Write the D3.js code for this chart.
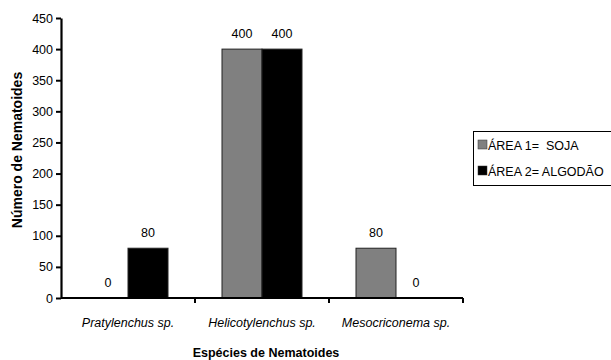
<!DOCTYPE html>
<html><head><meta charset="utf-8">
<script src="https://cdn.jsdelivr.net/npm/d3@7"></script>
<style>body{margin:0;background:#fff}svg{display:block}text{font-family:"Liberation Sans",Arial,sans-serif}</style>
</head><body><svg id="c" width="611" height="360"></svg>
<script>
const categories = ["Pratylenchus sp.", "Helicotylenchus sp.", "Mesocriconema sp."];
const seriesNames = ["ÁREA 1=  SOJA", "ÁREA 2= ALGODÃO"];
const area1 = [0, 400, 80];
const area2 = [80, 400, 0];
const yTicks = [0, 50, 100, 150, 200, 250, 300, 350, 400, 450];
const colors = ["#808080", "#000000"];

const svg = d3.select("#c");
const m = {l: 61, r: 463, t: 18, b: 298};
const x = d3.scaleBand().domain(categories).range([m.l, m.r]).paddingInner(0).paddingOuter(0);
const y = d3.scaleLinear().domain([0, 450]).range([m.b, m.t]);
const bw = 40;
const x1 = d3.scaleBand().domain([0, 1]).range([0, bw * 2]);

const series = [area1, area2];
series.forEach((vals, si) => {
  const g = svg.append("g");
  g.selectAll("rect").data(vals).join("rect")
    .attr("x", (d, i) => x(categories[i]) + x.bandwidth() / 2 - bw + x1(si))
    .attr("y", d => y(d))
    .attr("width", x1.bandwidth())
    .attr("height", d => y(0) - y(d))
    .attr("fill", colors[si])
    .attr("stroke", d => d > 0 ? "#222" : "none")
    .attr("stroke-width", 1);
  g.selectAll("text").data(vals).join("text")
    .attr("x", (d, i) => x(categories[i]) + x.bandwidth() / 2 - bw + x1(si) + x1.bandwidth() / 2)
    .attr("y", d => y(d) - 11)
    .attr("text-anchor", "middle")
    .attr("font-size", 12.5)
    .attr("fill", "#000")
    .text(d => d);
});

// y axis
const ya = svg.append("g").attr("transform", `translate(${m.l},0)`)
  .call(d3.axisLeft(y).tickValues(yTicks).tickSize(5).tickSizeOuter(0).tickPadding(3));
ya.select(".domain").attr("stroke", "#000").attr("stroke-width", 2.2);
ya.selectAll(".tick line").attr("stroke", "#000").attr("stroke-width", 2);
ya.selectAll(".tick text").attr("font-size", 12.5).attr("font-family", "Liberation Sans, Arial, sans-serif").attr("fill", "#000");

// x axis
const xa = svg.append("g").attr("transform", `translate(0,${m.b})`)
  .call(d3.axisBottom(x).tickSize(0).tickPadding(20));
xa.select(".domain").attr("stroke", "#000").attr("stroke-width", 2.2).attr("d", `M${m.l},0H${m.r}`);
xa.selectAll(".tick text").attr("font-size", 12.5).attr("font-style", "italic").attr("font-family", "Liberation Sans, Arial, sans-serif").attr("fill", "#000");
const bounds = categories.map(c => x(c) + x.bandwidth());
svg.append("g").selectAll("line").data(bounds).join("line")
  .attr("x1", d => d).attr("x2", d => d).attr("y1", m.b).attr("y2", m.b + 5)
  .attr("stroke", "#000").attr("stroke-width", 2);

// axis titles
svg.append("text").attr("transform", `translate(22,150) rotate(-90)`)
  .attr("text-anchor", "middle").attr("font-weight", "bold").attr("font-size", 14).text("Número de Nematoides");
svg.append("text").attr("x", 266).attr("y", 357).attr("text-anchor", "middle")
  .attr("font-weight", "bold").attr("font-size", 12.5).text("Espécies de Nematoides");

// legend
const lg = svg.append("g");
lg.append("rect").attr("x", 473.5).attr("y", 131.5).attr("width", 150).attr("height", 54)
  .attr("fill", "#fff").attr("stroke", "#000").attr("stroke-width", 1);
seriesNames.forEach((n, i) => {
  const yy = 145 + i * 26;
  lg.append("rect").attr("x", 478).attr("y", yy - 5).attr("width", 9).attr("height", 9)
    .attr("fill", colors[i]).attr("stroke", "#333").attr("stroke-width", 0.5);
  lg.append("text").attr("x", 488).attr("y", yy + 4.5).attr("font-size", 12.5).attr("fill", "#000")
    .style("white-space", "pre").text(n);
});
</script></body></html>
